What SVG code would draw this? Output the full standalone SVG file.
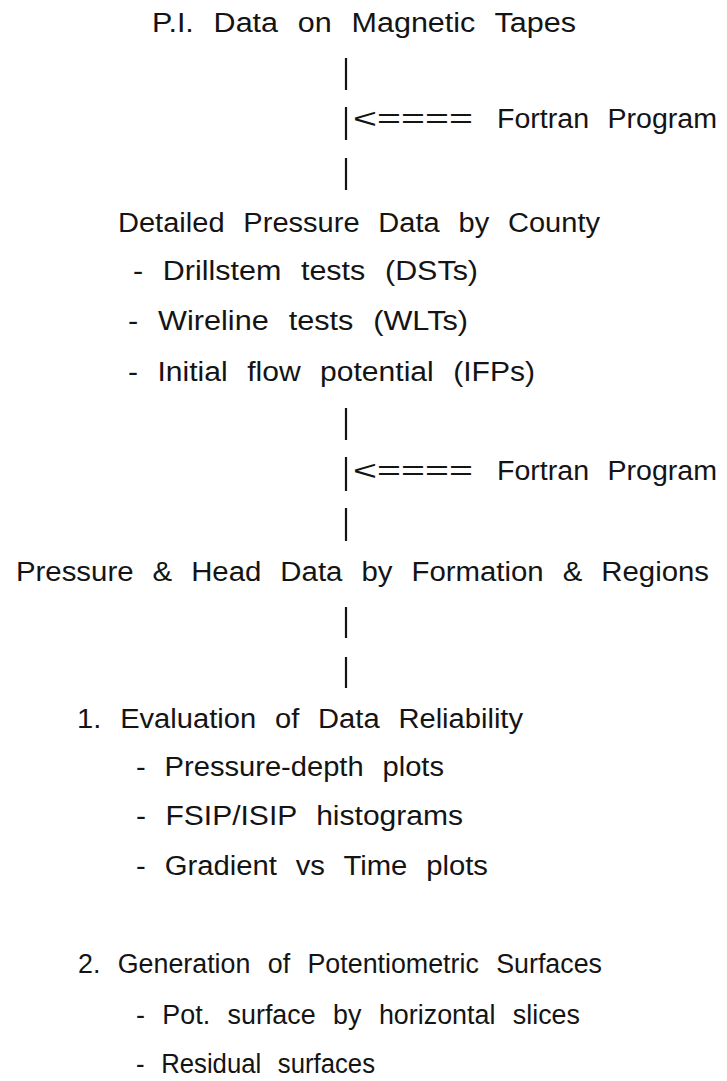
<svg xmlns="http://www.w3.org/2000/svg" width="727" height="1081" viewBox="0 0 727 1081">
<style>
text { font-family: "Liberation Sans", Arial, sans-serif; font-size: 27px; fill: #141414; word-spacing: 10px; }
.bar { stroke: #141414; stroke-width: 2.2; }
</style>
<rect width="727" height="1081" fill="#fff"/>
<g id="connectors">
<line class="bar" x1="346" y1="58" x2="346" y2="90"/>
<line class="bar" x1="346" y1="107" x2="346" y2="140"/>
<line class="bar" x1="346" y1="158" x2="346" y2="190"/>
<line class="bar" x1="346" y1="408" x2="346" y2="440"/>
<line class="bar" x1="346" y1="457" x2="346" y2="491"/>
<line class="bar" x1="346" y1="508" x2="346" y2="541"/>
<line class="bar" x1="346" y1="607" x2="346" y2="638"/>
<line class="bar" x1="346" y1="657" x2="346" y2="688"/>
</g>
<g id="node-pi-data">
<text x="152" y="32" textLength="424" lengthAdjust="spacingAndGlyphs">P.I. Data on Magnetic Tapes</text>
</g>
<g id="node-fortran-1">
<text y="128"><tspan x="353" textLength="120" lengthAdjust="spacingAndGlyphs">&lt;====</tspan> <tspan x="497" textLength="220" lengthAdjust="spacingAndGlyphs">Fortran Program</tspan></text>
</g>
<g id="node-detailed">
<text x="118" y="232" textLength="482" lengthAdjust="spacingAndGlyphs">Detailed Pressure Data by County</text>
<text x="133" y="280" textLength="345" lengthAdjust="spacingAndGlyphs">- Drillstem tests (DSTs)</text>
<text x="128" y="330" textLength="340" lengthAdjust="spacingAndGlyphs">- Wireline tests (WLTs)</text>
<text x="128" y="381" textLength="407" lengthAdjust="spacingAndGlyphs">- Initial flow potential (IFPs)</text>
</g>
<g id="node-fortran-2">
<text y="480"><tspan x="353" textLength="120" lengthAdjust="spacingAndGlyphs">&lt;====</tspan> <tspan x="497" textLength="220" lengthAdjust="spacingAndGlyphs">Fortran Program</tspan></text>
</g>
<g id="node-pressure-head">
<text x="16" y="581" textLength="693" lengthAdjust="spacingAndGlyphs">Pressure &amp; Head Data by Formation &amp; Regions</text>
</g>
<g id="node-evaluation">
<text x="77" y="728" textLength="446" lengthAdjust="spacingAndGlyphs">1. Evaluation of Data Reliability</text>
<text x="136" y="776" textLength="308" lengthAdjust="spacingAndGlyphs">- Pressure-depth plots</text>
<text x="136" y="825" textLength="327" lengthAdjust="spacingAndGlyphs">- FSIP/ISIP histograms</text>
<text x="136" y="875" textLength="352" lengthAdjust="spacingAndGlyphs">- Gradient vs Time plots</text>
</g>
<g id="node-generation">
<text x="78" y="973" textLength="524" lengthAdjust="spacingAndGlyphs">2. Generation of Potentiometric Surfaces</text>
<text x="136" y="1024" textLength="444" lengthAdjust="spacingAndGlyphs">- Pot. surface by horizontal slices</text>
<text x="136" y="1073" textLength="239" lengthAdjust="spacingAndGlyphs">- Residual surfaces</text>
</g>
</svg>
